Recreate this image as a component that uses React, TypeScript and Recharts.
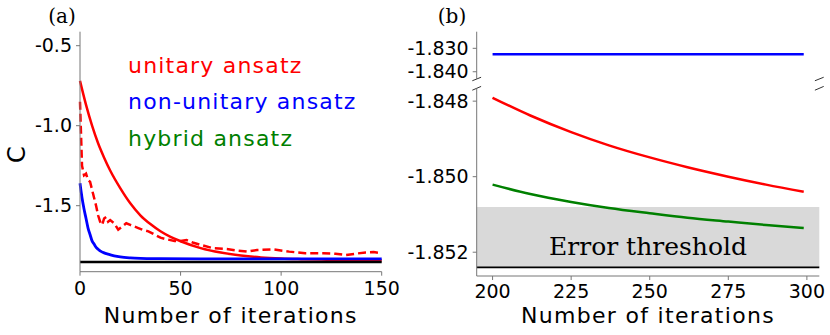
import { LineChart, Line, XAxis, YAxis, ReferenceLine, ReferenceArea } from 'recharts'

// panel (a): cost C vs iterations, 0..150
const unitaryIters = [0, 3, 6, 9, 12, 15, 20, 25, 30, 35, 40, 45, 50, 60, 70, 80, 90, 100, 110, 120, 130, 140, 150]
const unitaryCost = [-0.72, -0.87, -1.0, -1.11, -1.2, -1.28, -1.39, -1.485, -1.56, -1.615, -1.66, -1.695, -1.722, -1.765, -1.793, -1.811, -1.823, -1.83, -1.834, -1.837, -1.839, -1.84, -1.841]

const unitaryDashIters = [0, 1, 2, 3, 4, 5, 6, 7, 8, 9, 10, 11, 12, 13, 14, 15, 17, 19, 21, 23, 25, 27, 29, 31, 34, 37, 40, 43, 47, 50, 53, 56, 60, 66, 73, 78, 83, 88, 96, 104, 112, 121, 127, 132, 137, 142, 146, 150]
const unitaryDashCost = [-0.85, -1.25, -1.31, -1.3, -1.34, -1.35, -1.4, -1.45, -1.5, -1.56, -1.6, -1.62, -1.58, -1.57, -1.6, -1.59, -1.61, -1.65, -1.63, -1.61, -1.62, -1.63, -1.64, -1.65, -1.66, -1.68, -1.7, -1.71, -1.72, -1.72, -1.715, -1.73, -1.745, -1.765, -1.77, -1.78, -1.787, -1.777, -1.773, -1.787, -1.797, -1.797, -1.8, -1.808, -1.8, -1.792, -1.79, -1.797]

const nonUnitaryIters = [0, 1, 2, 3, 4, 5, 6, 7, 8, 9, 10, 12, 14, 17, 20, 25, 30, 40, 60, 100, 150]
const nonUnitaryCost = [-1.36, -1.45, -1.52, -1.58, -1.64, -1.68, -1.72, -1.74, -1.76, -1.772, -1.782, -1.795, -1.803, -1.813, -1.82, -1.826, -1.829, -1.831, -1.8325, -1.8325, -1.8325]

const groundState = -1.8524

// panel (b): iterations 200..299
const zoomIters = [200, 212, 225, 237, 250, 262, 275, 287, 299]
const zoomUnitary = [-1.84791, -1.84838, -1.84882, -1.84917, -1.84949, -1.84975, -1.85, -1.85021, -1.8504]
const zoomHybrid = [-1.85021, -1.85046, -1.85067, -1.85083, -1.85097, -1.85109, -1.85119, -1.85128, -1.85136]
const zoomNonUnitary = [-1.8325, -1.8325, -1.8325, -1.8325, -1.8325, -1.8325, -1.8325, -1.8325, -1.8325]
const errorThreshold = -1.8508

const ticksA = [0, 50, 100, 150]
const yTicksA = [-1.5, -1.0, -0.5]
const ticksB = [200, 225, 250, 275, 300]
const yTicksTop = [-1.84, -1.83]
const yTicksBottom = [-1.852, -1.85, -1.848]

const toRows = (xs: number[], ys: number[]) => xs.map((x, i) => ({ iter: x, c: ys[i] }))

const FRAME = '#777'
const tickStyle = { fill: '#000', fontSize: 19, fontFamily: 'DejaVu Sans' }
const xDomB: [number, number] = [194.95, 303.95]
const topDom: [number, number] = [-1.8431, -1.8229]
const botDom: [number, number] = [-1.85263, -1.84766]

const xLabel = (offset: number) => ({
  value: 'Number of iterations',
  position: 'insideBottom' as const,
  offset,
  fontSize: 22,
  fill: '#000',
  fontFamily: 'DejaVu Sans',
  letterSpacing: 1.3,
})

// little diagonal strokes marking the broken y axis
function breakMarks(yEdge: number, dyData: number) {
  const dx = 1.4
  return [xDomB[0], xDomB[1]].map((x) => (
    <ReferenceLine
      key={`brk-${x}`}
      segment={[
        { x: x - dx, y: yEdge - dyData },
        { x: x + dx, y: yEdge + dyData },
      ]}
      stroke="#333"
      strokeWidth={1}
      ifOverflow="visible"
    />
  ))
}

function PanelA() {
  return (
    <LineChart width={415} height={335} margin={{ top: 31.7, right: 33.3, bottom: 3.3, left: 0 }}>
      <XAxis
        dataKey="iter"
        type="number"
        domain={[0, 150]}
        ticks={ticksA}
        height={60}
        stroke={FRAME}
        tickSize={4}
        tickMargin={6}
        tick={tickStyle}
        label={xLabel(8.4)}
      />
      <XAxis xAxisId="top" orientation="top" type="number" domain={[0, 150]} height={0} tick={false} tickLine={false} stroke={FRAME} />
      <YAxis
        type="number"
        domain={[-1.9125, -0.4125]}
        ticks={yTicksA}
        interval={0}
        width={80}
        stroke={FRAME}
        tickSize={4}
        tickMargin={4}
        tick={tickStyle}
        tickFormatter={(v: number) => v.toFixed(1)}
        allowDataOverflow
        label={{
          content: (p: any) => {
            const vb = p.viewBox
            const cx = vb.x + 25
            const cy = vb.y + vb.height / 2 + 3
            return (
              <text x={cx} y={cy} transform={`rotate(-90 ${cx} ${cy})`} textAnchor="middle" fontSize={24} fontFamily="DejaVu Sans" fill="#000">
                C
              </text>
            )
          },
        }}
      />
      <YAxis yAxisId="right" orientation="right" type="number" domain={[-1.9125, -0.4125]} width={0} tick={false} tickLine={false} stroke={FRAME} />
      <Line data={toRows(unitaryIters, unitaryCost)} dataKey="c" type="monotone" stroke="#ff0000" strokeWidth={2.5} dot={false} isAnimationActive={false} />
      <Line data={toRows(unitaryDashIters, unitaryDashCost)} dataKey="c" type="linear" stroke="#ff0000" strokeWidth={2.5} strokeDasharray="8 4" dot={false} isAnimationActive={false} />
      <Line data={toRows(nonUnitaryIters, nonUnitaryCost)} dataKey="c" type="monotone" stroke="#0000ff" strokeWidth={2.8} dot={false} isAnimationActive={false} />
      <ReferenceLine y={groundState} stroke="#000" strokeWidth={2.5} />
    </LineChart>
  )
}

// panel (b) charts start at x=365 so the y tick labels have room
const B_LEFT = 365
const B_W = 830 - B_LEFT
const B_AXIS_W = 476.7 - B_LEFT

function PanelBTop() {
  return (
    <LineChart width={B_W} height={335} margin={{ top: 31.7, right: 10.7, bottom: 256, left: 0 }}>
      <XAxis dataKey="iter" type="number" domain={xDomB} hide height={0} />
      <XAxis xAxisId="top" orientation="top" type="number" domain={xDomB} height={0} tick={false} tickLine={false} stroke={FRAME} />
      <YAxis
        type="number"
        domain={topDom}
        ticks={yTicksTop}
        interval={0}
        width={B_AXIS_W}
        stroke={FRAME}
        tickSize={4}
        tickMargin={4}
        tick={tickStyle}
        tickFormatter={(v: number) => v.toFixed(3)}
        allowDataOverflow
      />
      <YAxis yAxisId="right" orientation="right" type="number" domain={topDom} width={0} tick={false} tickLine={false} stroke={FRAME} />
      <Line data={toRows(zoomIters, zoomNonUnitary)} dataKey="c" stroke="#0000ff" strokeWidth={2.5} dot={false} isAnimationActive={false} />
      {breakMarks(topDom[0], 0.00075)}
    </LineChart>
  )
}

function PanelBBottom() {
  return (
    <LineChart width={B_W} height={335} margin={{ top: 88.3, right: 10.7, bottom: 4, left: 0 }}>
      <XAxis
        dataKey="iter"
        type="number"
        domain={xDomB}
        ticks={ticksB}
        height={55}
        stroke={FRAME}
        tickSize={4}
        tickMargin={5}
        tick={tickStyle}
        label={xLabel(7.7)}
        allowDataOverflow
      />
      <YAxis
        type="number"
        domain={botDom}
        ticks={yTicksBottom}
        interval={0}
        width={B_AXIS_W}
        stroke={FRAME}
        tickSize={4}
        tickMargin={4}
        tick={tickStyle}
        tickFormatter={(v: number) => v.toFixed(3)}
        allowDataOverflow
      />
      <YAxis yAxisId="right" orientation="right" type="number" domain={botDom} width={0} tick={false} tickLine={false} stroke={FRAME} />
      <ReferenceArea
        y1={groundState}
        y2={errorThreshold}
        fill="#d9d9d9"
        fillOpacity={1}
        stroke="none"
        label={{ value: 'Error threshold', position: 'insideBottom', offset: 12.3, fontSize: 25, fontFamily: 'DejaVu Serif', fill: '#000' }}
      />
      <ReferenceLine y={groundState} stroke="#000" strokeWidth={1.8} />
      <Line data={toRows(zoomIters, zoomUnitary)} dataKey="c" type="monotone" stroke="#ff0000" strokeWidth={2.5} dot={false} isAnimationActive={false} />
      <Line data={toRows(zoomIters, zoomHybrid)} dataKey="c" type="monotone" stroke="#008000" strokeWidth={2.5} dot={false} isAnimationActive={false} />
      {breakMarks(botDom[1], 0.00005)}
    </LineChart>
  )
}

export default function App() {
  return (
    <div style={{ position: 'absolute', left: 0, top: 0, width: 830, height: 335, background: '#fff', fontFamily: 'DejaVu Sans' }}>
      <div style={{ position: 'absolute', left: 0, top: 0 }}>
        <PanelA />
      </div>
      <div style={{ position: 'absolute', left: B_LEFT, top: 0 }}>
        <PanelBTop />
      </div>
      <div style={{ position: 'absolute', left: B_LEFT, top: 0 }}>
        <PanelBBottom />
      </div>
      <svg width={830} height={335} style={{ position: 'absolute', left: 0, top: 0, pointerEvents: 'none' }}>
        <text x={62} y={23} textAnchor="middle" fontSize={20} fontFamily="DejaVu Serif" fill="#000">(a)</text>
        <text x={452} y={23} textAnchor="middle" fontSize={20} fontFamily="DejaVu Serif" fill="#000">(b)</text>
        <g fontSize={22} fontFamily="DejaVu Sans" letterSpacing={1.2}>
          <text x={128} y={72.5} fill="#ff0000">unitary ansatz</text>
          <text x={128} y={109} fill="#0000ff">non-unitary ansatz</text>
          <text x={128} y={145.5} fill="#008000">hybrid ansatz</text>
        </g>
      </svg>
    </div>
  )
}
